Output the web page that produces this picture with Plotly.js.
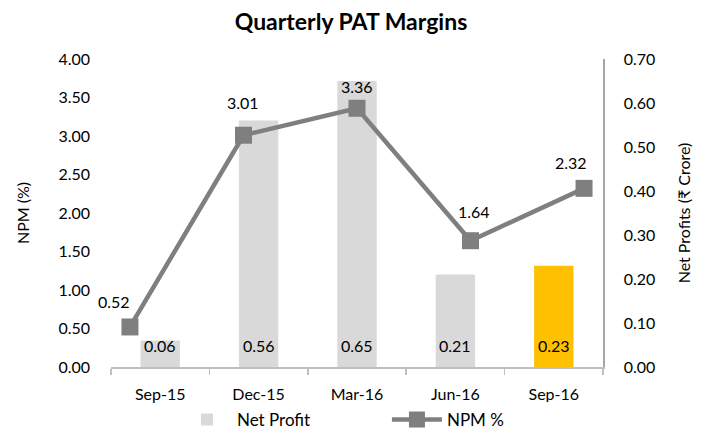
<!DOCTYPE html>
<html>
<head>
<meta charset="utf-8">
<script src="https://cdn.plot.ly/plotly-3.0.1.min.js"></script>
<style>html,body{margin:0;padding:0;background:#fff;}#chart{width:702px;height:433px;}</style>
</head>
<body>
<div id="chart"></div>
<script>
// Data
const categories = ['Sep-15', 'Dec-15', 'Mar-16', 'Jun-16', 'Sep-16'];
const netProfit = [0.06, 0.56, 0.65, 0.21, 0.23];
const npmPct = [0.52, 3.01, 3.36, 1.64, 2.32];

// Styles (not data)
const barColors = ['#d9d9d9', '#d9d9d9', '#d9d9d9', '#d9d9d9', '#ffc000'];
const lineLabelShift = [[-16, 25], [0, 33], [0, 22], [3, 29], [-13, 26]];
const FONT = 'Lato, "Open Sans", "DejaVu Sans", sans-serif';

const traces = [
  {
    type: 'bar', name: 'Net Profit', x: categories, y: netProfit,
    xaxis: 'x', yaxis: 'y', width: 0.4,
    marker: {color: barColors}, hoverinfo: 'none'
  },
  {
    type: 'scatter', mode: 'lines+markers', name: 'NPM %', x: categories, y: npmPct,
    xaxis: 'x2', yaxis: 'y2',
    line: {color: '#7f7f7f', width: 4.5},
    marker: {symbol: 'square', size: 17, color: '#7f7f7f'},
    hoverinfo: 'none'
  }
];

const annotations = [];
categories.forEach((c, i) => {
  annotations.push({
    xref: 'x', yref: 'y', x: c, y: 0, yanchor: 'middle', yshift: 22,
    text: netProfit[i].toFixed(2), showarrow: false,
    font: {family: FONT, size: 16, color: '#000'}
  });
  annotations.push({
    xref: 'x2', yref: 'y2', x: c, y: npmPct[i], yanchor: 'middle',
    xshift: lineLabelShift[i][0], yshift: lineLabelShift[i][1],
    text: npmPct[i].toFixed(2), showarrow: false,
    font: {family: FONT, size: 16, color: '#000'}
  });
});

const layout = {
  width: 702, height: 433,
  margin: {l: 111, r: 99, t: 59, b: 66, autoexpand: false},
  paper_bgcolor: '#fff', plot_bgcolor: '#fff',
  font: {family: FONT, size: 16, color: '#000'},
  title: {text: '<b>Quarterly PAT Margins</b>', x: 0.5, xanchor: 'center', y: 0.95, yanchor: 'middle',
          font: {family: FONT, size: 23, color: '#000'}},
  showlegend: true,
  legend: {orientation: 'h', x: 0.134, xanchor: 'left', y: -0.172, yanchor: 'middle',
           font: {family: FONT, size: 17, color: '#000'}, itemwidth: 50, entrywidth: 145,
           traceorder: 'normal'},
  xaxis: {
    type: 'category', range: [-0.5, 4.5], showgrid: false, zeroline: false, automargin: false,
    showline: true, linecolor: '#bfbfbf', linewidth: 1.5,
    ticks: 'outside', tickson: 'boundaries', ticklen: 6, tickcolor: '#bfbfbf', tickwidth: 1.5,
    tickfont: {family: FONT, size: 16, color: '#000'}, ticklabelstandoff: 12, fixedrange: true
  },
  xaxis2: {
    type: 'category', overlaying: 'x', range: [-0.167, 4.167], visible: false, fixedrange: true
  },
  yaxis: {
    side: 'right', range: [0, 0.7], dtick: 0.1, tickformat: '.2f', automargin: false,
    showgrid: false, zeroline: false, showline: true, linecolor: '#a6a6a6', linewidth: 1.5,
    ticks: '', ticklabelstandoff: 16,
    tickfont: {family: FONT, size: 16, color: '#000'},
    title: {text: 'Net Profits (₹ Crore)', font: {family: FONT, size: 16, color: '#000'}, standoff: 24},
    fixedrange: true
  },
  yaxis2: {
    side: 'left', overlaying: 'y', range: [0, 4], dtick: 0.5, tickformat: '.2f', automargin: false,
    showgrid: false, zeroline: false, showline: false, ticks: '', ticklabelstandoff: 20,
    tickfont: {family: FONT, size: 16, color: '#000'},
    title: {text: 'NPM (%)', font: {family: FONT, size: 16, color: '#000'}, standoff: 24},
    fixedrange: true
  },
  annotations: annotations
};

Plotly.newPlot('chart', traces, layout, {staticPlot: true, displayModeBar: false});
</script>
</body>
</html>
